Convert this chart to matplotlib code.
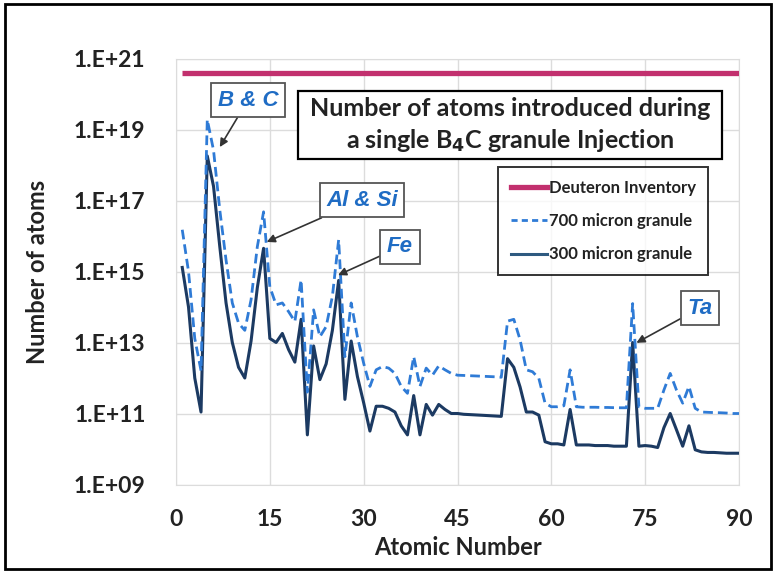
import numpy as np
import matplotlib
matplotlib.use("Agg")
import matplotlib.pyplot as plt
from matplotlib.patches import Rectangle
from matplotlib.lines import Line2D

plt.rcParams.update({
    "font.family": "Lato",
    "font.weight": "bold",
    "axes.labelweight": "bold",
    "mathtext.default": "regular",
})

# ---- data ----
atomic_number = np.arange(1, 91)

deuteron_inventory = 4.0e20

atoms_300um = [
    1.3e15, 1.0e14, 1.0e12, 1.1e11, 1.8e18, 2.5e17, 5.0e15, 1.3e14, 1.0e13, 2.0e12,
    1.0e12, 1.1e13, 3.5e14, 4.5e15, 1.3e13, 1.0e13, 1.8e13, 6.3e12, 2.8e12, 4.5e13,
    2.5e10, 8.0e12, 9.0e11, 2.5e12, 2.2e13, 5.6e14, 2.5e11, 1.1e13, 1.1e12, 2.0e11,
    3.2e10, 1.6e11, 1.6e11, 1.4e11, 1.1e11, 4.5e10, 2.5e10, 3.2e11, 2.5e10, 1.8e11,
    9.0e10, 1.8e11, 1.3e11, 1.0e11, 1.0e11, 9.5e10, 9.3e10, 9.1e10, 8.9e10, 8.7e10,
    8.5e10, 8.3e10, 3.5e12, 2.0e12, 5.6e11, 1.1e11, 1.1e11, 9.0e10, 1.6e10, 1.4e10,
    1.4e10, 1.3e10, 1.3e11, 1.3e10, 1.3e10, 1.3e10, 1.25e10, 1.25e10, 1.25e10, 1.2e10,
    1.2e10, 1.2e10, 1.0e13, 1.2e10, 1.25e10, 1.2e10, 1.1e10, 4.0e10, 1.0e11, 3.5e10,
    1.2e10, 4.5e10, 9.5e9, 8.3e9, 8.0e9, 8.0e9, 7.8e9, 7.6e9, 7.6e9, 7.6e9,
]

atoms_700um = [
    1.5e16, 1.0e15, 1.3e13, 1.6e12, 1.9e19, 2.6e18, 5.4e16, 2.1e15, 1.3e14, 3.5e13,
    2.2e13, 1.6e14, 5.0e15, 4.8e16, 3.7e14, 1.15e14, 1.3e14, 7.4e13, 3.9e13, 5.8e14,
    4.0e11, 8.3e13, 1.45e13, 2.8e13, 2.0e14, 7.8e15, 4.0e12, 1.3e14, 1.45e13, 2.6e12,
    5.8e11, 1.7e12, 2.1e12, 1.9e12, 1.35e12, 5.8e11, 3.7e11, 4.0e12, 5.8e11, 1.9e12,
    1.2e12, 2.2e12, 1.7e12, 1.35e12, 1.2e12, 1.18e12, 1.16e12, 1.14e12, 1.12e12, 1.1e12,
    1.08e12, 1.05e12, 4.0e13, 4.5e13, 1.2e13, 1.7e12, 1.5e12, 9.8e11, 1.95e11, 1.55e11,
    1.55e11, 1.65e11, 1.7e12, 1.55e11, 1.5e11, 1.5e11, 1.5e11, 1.48e11, 1.48e11, 1.46e11,
    1.45e11, 1.45e11, 1.25e14, 1.55e11, 1.4e11, 1.4e11, 1.4e11, 4.6e11, 1.35e12, 4.6e11,
    1.95e11, 5.8e11, 1.4e11, 1.1e11, 1.08e11, 1.06e11, 1.05e11, 1.03e11, 1.0e11, 1.0e11,
]

y_ticks = [1e9, 1e11, 1e13, 1e15, 1e17, 1e19, 1e21]
y_ticklabels = ["1.E+09", "1.E+11", "1.E+13", "1.E+15", "1.E+17", "1.E+19", "1.E+21"]
x_ticks = [0, 15, 30, 45, 60, 75, 90]

# (label, atomic number, value pointed at, box centre in figure px from top-left)
callouts = [
    ("B & C", 7.0, 3.2e18, (248, 100)),
    ("Al & Si", 14.5, 6.8e15, (362, 200)),
    ("Fe", 25.9, 7.9e14, (400, 247)),
    ("Ta", 73.6, 9.8e12, (700, 308)),
]

W, H = 777, 573
fig = plt.figure(figsize=(W / 100, H / 100), dpi=100)


def fx(px):
    return px / W


def fy(py):
    return 1 - py / H


ax = fig.add_axes([fx(176), fy(484.5), fx(739) - fx(176), fy(58.5) - fy(484.5)])

ax.plot(atomic_number, [deuteron_inventory] * len(atomic_number),
        color="#c2306e", lw=3.8, solid_capstyle="butt", zorder=3)
ax.plot(atomic_number, atoms_300um, color="#1c3a62", lw=2.2, zorder=4)
ax.plot(atomic_number, atoms_700um, color="#2f7bd6", lw=2.0,
        dashes=(3.5, 1.8), zorder=5)

ax.set_yscale("log")
ax.set_ylim(1e9, 1e21)
ax.set_xlim(0, 90)
ax.set_yticks(y_ticks)
ax.set_yticklabels(y_ticklabels)
ax.yaxis.set_minor_locator(matplotlib.ticker.NullLocator())
ax.set_xticks(x_ticks)
ax.tick_params(length=0, labelsize=16.5, colors="#222222")
ax.tick_params(axis="y", pad=22)
ax.tick_params(axis="x", pad=18)
for t in ax.get_xticklabels() + ax.get_yticklabels():
    t.set_fontweight("bold")
ax.grid(True, color="#dcdcdc", lw=1.0)
ax.set_axisbelow(True)
for s in ax.spines.values():
    s.set_color("#dcdcdc")

ax.set_xlabel("Atomic Number", fontsize=17, fontweight="bold", color="#222222", labelpad=4)
ax.set_ylabel("Number of atoms", fontsize=17, fontweight="bold", color="#222222", labelpad=18)

# title box
fig.patches.append(Rectangle((fx(298), fy(159)), fx(722) - fx(298), fy(91) - fy(159),
                             transform=fig.transFigure, fill=True, facecolor="white",
                             edgecolor="black", lw=1.6, zorder=6))
fig.text(fx(510), fy(108), "Number of atoms introduced during", ha="center", va="center",
         fontsize=18, fontweight="bold", color="#222222", zorder=7)
fig.text(fx(510), fy(141), r"a single B$_{\mathbf{4}}$C granule Injection", ha="center",
         va="center", fontsize=18, fontweight="bold", color="#222222", zorder=7)

# legend
handles = [
    Line2D([], [], color="#c2306e", lw=3.8),
    Line2D([], [], color="#2f7bd6", lw=2.0, dashes=(2.2, 1.5)),
    Line2D([], [], color="#2e5a80", lw=2.2),
]
leg = fig.legend(handles, ["Deuteron Inventory", "700 micron granule", "300 micron granule"],
                 loc="upper left", bbox_to_anchor=(fx(498), fy(167)),
                 prop={"size": 12, "weight": "bold"}, frameon=True, fancybox=False,
                 handlelength=2.2, handletextpad=0.1, labelspacing=1.05, borderpad=0.75,
                 borderaxespad=0)
leg.get_frame().set_edgecolor("black")
leg.get_frame().set_linewidth(1.4)
for t in leg.get_texts():
    t.set_color("#222222")

# callouts
for label, z, val, (bx, by) in callouts:
    ax.annotate(label, xy=(z, val), xytext=(bx, H - by), textcoords="figure pixels",
                ha="center", va="center", fontsize=16, fontstyle="italic",
                family="Liberation Sans", fontweight="bold", color="#1f6cc4",
                bbox=dict(boxstyle="square,pad=0.3", facecolor="white",
                          edgecolor="#555555", lw=1.3),
                arrowprops=dict(arrowstyle="-|>", color="#333333", lw=1.2,
                                mutation_scale=12, shrinkA=0, shrinkB=0),
                zorder=8)

# outer frame
fig.patches.append(Rectangle((fx(5), fy(569)), fx(771) - fx(5), fy(4) - fy(569),
                             transform=fig.transFigure, fill=False,
                             edgecolor="black", lw=2.0))

fig.savefig("out.png", dpi=100)
